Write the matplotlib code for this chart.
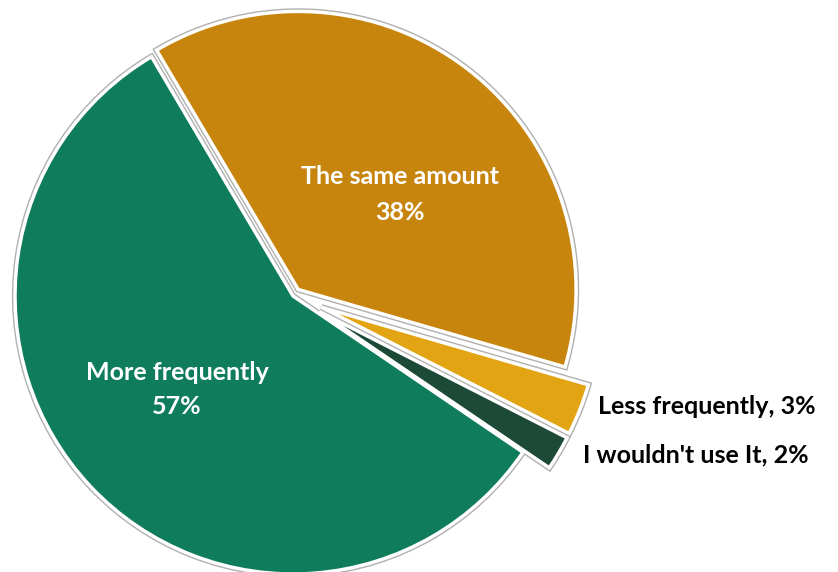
import matplotlib.pyplot as plt

labels = ['The same amount', 'Less frequently', "I wouldn't use It", 'More frequently']
shares = [38, 3, 2, 57]
colors = ['#C8850E', '#E2A412', '#1C4A36', '#0F7D5C']
explode = [0.03, 0.11, 0.11, 0.0]

W, H = 838, 572
cx, cy, r = 293, 296, 278  # pie centre / radius in pixels

fig = plt.figure(figsize=(W / 100, H / 100), dpi=100)
ax = fig.add_axes([0, 0, 1, 1])

# grey rim first, white separators on top
ax.pie(shares, colors=colors, explode=explode, startangle=120.6, counterclock=False,
       wedgeprops=dict(edgecolor='#b0b0b0', linewidth=4.5))
ax.pie(shares, colors=colors, explode=explode, startangle=120.6, counterclock=False,
       wedgeprops=dict(edgecolor='white', linewidth=2.5))

ax.set_aspect('auto')
ax.set_xlim(-cx / r, (W - cx) / r)
ax.set_ylim(-(H - cy) / r, cy / r)
ax.axis('off')


def px(x, y):
    return (x - cx) / r, (cy - y) / r


font = 'Lato'
fs = 18
ax.text(*px(400, 176), labels[0], color='white', fontsize=fs, fontweight='bold',
        family=font, ha='center', va='center')
ax.text(*px(400, 212), f'{shares[0]}%', color='white', fontsize=fs, fontweight='bold',
        family=font, ha='center', va='center')
ax.text(*px(177, 373), labels[3], color='white', fontsize=fs, fontweight='bold',
        family=font, ha='center', va='center')
ax.text(*px(177, 407), f'{shares[3]}%', color='white', fontsize=fs, fontweight='bold',
        family=font, ha='center', va='center')
ax.text(*px(598, 407), f'{labels[1]}, {shares[1]}%', color='black', fontsize=fs,
        fontweight='bold', family=font, ha='left', va='center')
ax.text(*px(583, 455), f'{labels[2]}, {shares[2]}%', color='black', fontsize=fs,
        fontweight='bold', family=font, ha='left', va='center')

fig.savefig('out.png', dpi=100)
